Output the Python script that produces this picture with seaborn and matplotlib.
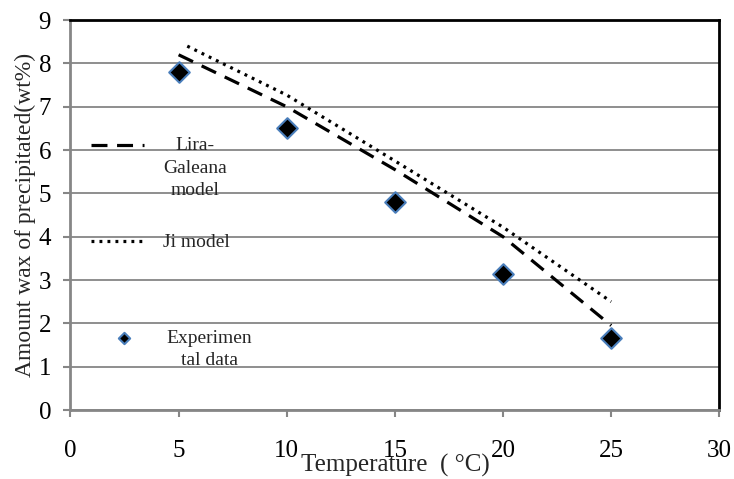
import numpy as np
import pandas as pd
import seaborn as sns
import matplotlib.pyplot as plt
from matplotlib.legend import Legend

# values
temps = [5, 10, 15, 20, 25]
exp_wax = [7.8, 6.5, 4.8, 3.15, 1.66]
lira_wax = [8.2, 7.0, 5.55, 4.0, 1.95]
ji_temps = [5.4, 10, 15, 20, 25]
ji_wax = [8.4, 7.27, 5.75, 4.22, 2.5]

x_ticks = [0, 5, 10, 15, 20, 25, 30]
y_ticks = [0, 1, 2, 3, 4, 5, 6, 7, 8, 9]

sns.set_theme(style="white")
plt.rcParams['font.family'] = ['Liberation Serif', 'DejaVu Serif']

grey = '#868686'

fig = plt.figure(figsize=(7.34, 4.79), dpi=100)
ax = fig.add_axes([0.096, 0.144, 0.884, 0.814])

df_lira = pd.DataFrame({'T': temps, 'W': lira_wax})
df_ji = pd.DataFrame({'T': ji_temps, 'W': ji_wax})
df_exp = pd.DataFrame({'T': temps, 'W': exp_wax})

sns.lineplot(data=df_lira, x='T', y='W', ax=ax, color='black', lw=2.3,
             label='Lira-\nGaleana\nmodel')
ax.lines[-1].set_dashes((5, 3))
sns.lineplot(data=df_ji, x='T', y='W', ax=ax, color='black', lw=2.3,
             label='Ji model')
ax.lines[-1].set_dashes((0.9, 1.6))
sns.scatterplot(data=df_exp, x='T', y='W', ax=ax, marker='D', s=110,
                color='black', edgecolor='#4A7EBB', linewidth=1.5,
                label='Experimen\ntal data', zorder=5)

ax.set_xlim(0, 30)
ax.set_ylim(0, 9)
ax.set_xticks(x_ticks)
ax.set_yticks(y_ticks)
ax.grid(axis='y', color=grey, lw=1.3)
ax.grid(axis='x', visible=False)
ax.set_axisbelow(True)

for side in ['left', 'bottom']:
    ax.spines[side].set_color(grey)
    ax.spines[side].set_linewidth(2)
for side in ['top', 'right']:
    ax.spines[side].set_color('black')
    ax.spines[side].set_linewidth(2)

ax.tick_params(axis='both', labelsize=18, colors='black', length=5,
               width=1.5, direction='out')
ax.tick_params(axis='x', color=grey, bottom=True, pad=16.5)
ax.tick_params(axis='y', color=grey, left=True, pad=9)

ax.set_xlabel('Temperature  ( °C)', fontsize=18, labelpad=-6)
ax.set_ylabel('Amount wax of precipitated(wt%)', fontsize=17, labelpad=2)

# Excel-style legend: one entry per block, placed inside the plot area
handles, labels = ax.get_legend_handles_labels()
if ax.legend_ is not None:
    ax.legend_.remove()
anchors = [0.699, 0.452, 0.206]
hlens = [2.75, 2.75, 3.4]
hpads = [1.0, 1.0, 0.5]
for h, lab, yy, hl, hp in zip(handles, labels, anchors, hlens, hpads):
    lg = Legend(ax, [h], [lab], loc='upper left', bbox_to_anchor=(0.031, yy),
                frameon=False, fontsize=14, handlelength=hl, handleheight=0.8,
                handletextpad=hp, borderpad=0, borderaxespad=0, markerscale=0.55)
    for t in lg.get_texts():
        t.set_multialignment('center')
        t.set_linespacing(1.4)
    for row in lg._legend_handle_box.get_children()[0].get_children():
        row.align = 'top'
    ax.add_artist(lg)

fig.savefig('out.png', dpi=100)
